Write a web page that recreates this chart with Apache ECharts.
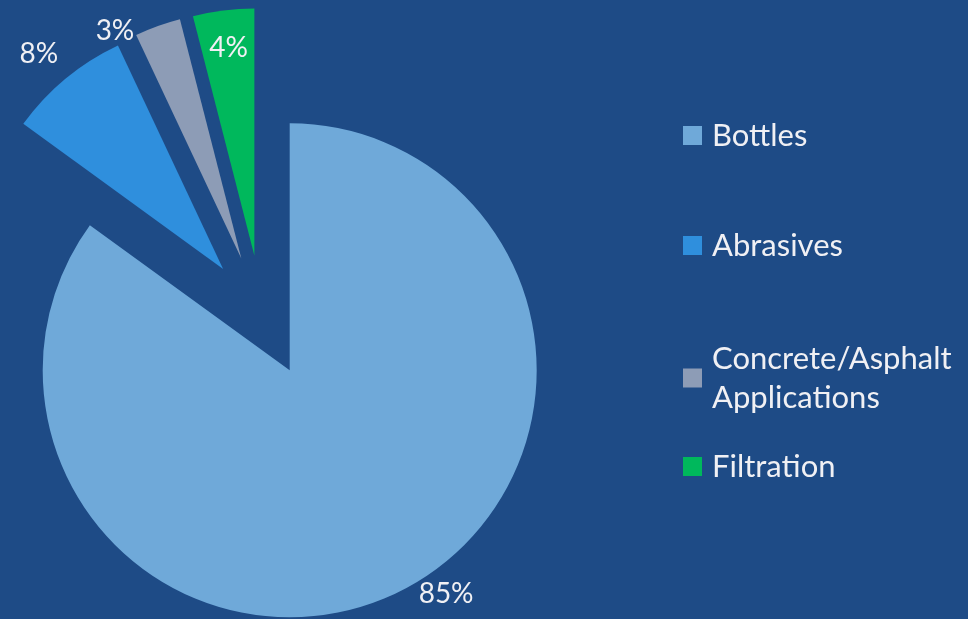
<!DOCTYPE html>
<html>
<head>
<meta charset="utf-8">
<script src="https://cdn.jsdelivr.net/npm/echarts@6/dist/echarts.min.js"></script>
<style>
  html, body { margin: 0; padding: 0; background: #1e4b86; }
  #main { width: 968px; height: 619px; }
</style>
</head>
<body>
<div id="main"></div>
<script>
var categories = ['Bottles', 'Abrasives', 'Concrete/Asphalt\nApplications', 'Filtration'];
var values = [85, 8, 3, 4];
var colors = ['#6fa9d9', '#2f8fdd', '#8d9cb6', '#00b85c'];

// small shifts of the data labels (Excel put them by hand / best fit)
var labelNudge = [[10, 0], [0, -22], [-17, 9], [-10, -82]];

var myChart = echarts.init(document.getElementById('main'));

var pieData = [];
for (var i = 0; i < categories.length; i++) {
    pieData.push({
        name: categories[i],
        value: values[i],
        selected: true,
        itemStyle: { color: colors[i] },
        select: { itemStyle: { color: colors[i] } },
        label: { position: i === 3 ? 'inside' : 'outside' }
    });
}

// legend items placed one by one (the two-line item overlaps the gap like in the original)
var legendTops = [116, 226, 339, 447];
var legends = categories.map(function (name, i) {
    return {
        data: [name],
        orient: 'vertical',
        left: 683,
        top: legendTops[i],
        padding: 0,
        icon: 'rect',
        itemWidth: 19,
        itemHeight: 19,
        itemGap: 10,
        selectedMode: false,
        textStyle: {
            color: '#f0f0f4',
            fontFamily: 'Lato',
            fontSize: 31,
            lineHeight: 39,
            padding: [0, 0, 0, 5]
        }
    };
});

var option = {
    backgroundColor: '#1e4b86',
    animation: false,
    legend: legends,
    series: [
        {
            type: 'pie',
            center: [262, 316],
            radius: 247,
            startAngle: 90,
            clockwise: true,
            selectedMode: 'multiple',
            selectedOffset: 61,
            emphasis: { disabled: true },
            itemStyle: { borderWidth: 0 },
            label: {
                formatter: '{c}%',
                color: '#f0f0f4',
                fontFamily: 'Lato',
                fontSize: 28
            },
            labelLine: { show: false, length: 4, length2: 0 },
            labelLayout: function (params) {
                var n = labelNudge[params.dataIndex];
                return { dx: n[0], dy: n[1] };
            },
            data: pieData
        }
    ]
};
myChart.setOption(option);
</script>
</body>
</html>
